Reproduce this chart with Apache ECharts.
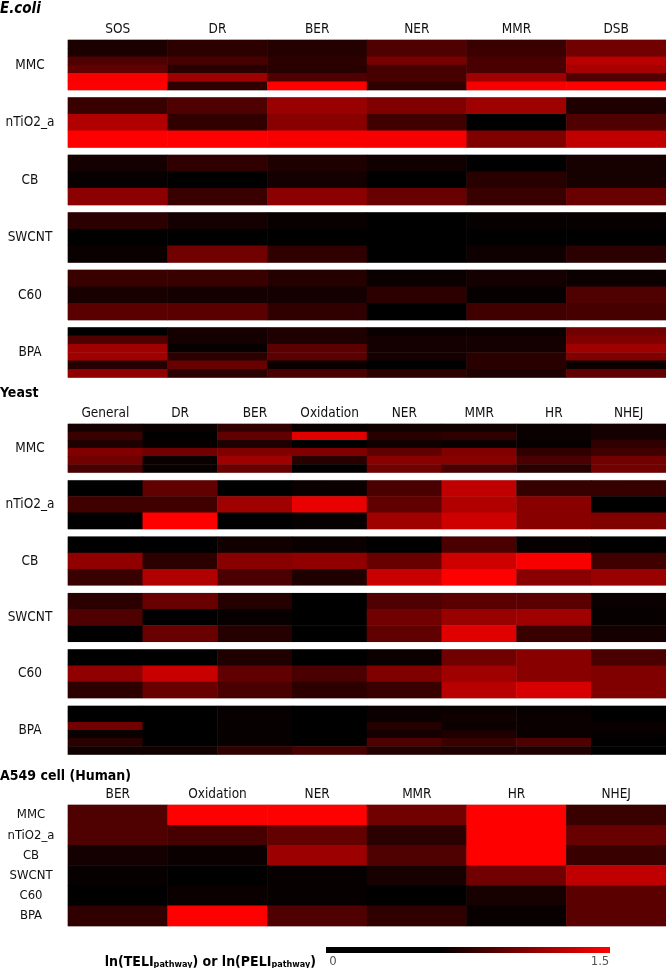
<!DOCTYPE html>
<html><head><meta charset="utf-8">
<script src="https://cdn.jsdelivr.net/npm/echarts@6/dist/echarts.min.js"></script>
<style>html,body{margin:0;padding:0;background:#fff}#c{width:666px;height:968px}</style>
</head><body><div id="c"></div>
<script>
// ---------- categories ----------
const chemicals = ['MMC', 'nTiO2_a', 'CB', 'SWCNT', 'C60', 'BPA'];
const ecoliPathways = ['SOS', 'DR', 'BER', 'NER', 'MMR', 'DSB'];
const yeastPathways = ['General', 'DR', 'BER', 'Oxidation', 'NER', 'MMR', 'HR', 'NHEJ'];
const humanPathways = ['BER', 'Oxidation', 'NER', 'MMR', 'HR', 'NHEJ'];
const colorTicks = ['0', '1.5'];
const colorRange = [0, 1.5];

// ---------- E.coli values (rows = sub-rows of each chemical, cols = pathways) ----------
const ecoli_MMC = [
  [0.70, 0.76, 0.73, 0.88, 0.80, 1.00],
  [0.70, 0.76, 0.73, 0.88, 0.81, 1.00],
  [0.88, 0.85, 0.76, 1.02, 0.86, 1.25],
  [0.94, 0.74, 0.74, 0.85, 0.86, 1.19],
  [1.48, 1.16, 0.88, 0.85, 1.16, 0.88],
  [1.50, 0.77, 1.50, 0.77, 1.48, 1.50]];
const ecoli_nTiO2_a = [
  [0.80, 0.88, 1.14, 1.05, 1.16, 0.71],
  [1.22, 0.77, 1.08, 0.83, 0.30, 0.88],
  [1.50, 1.50, 1.48, 1.48, 1.05, 1.28]];
const ecoli_CB = [
  [0.67, 0.77, 0.71, 0.66, 0.35, 0.68],
  [0.62, 0.40, 0.67, 0.40, 0.74, 0.68],
  [1.09, 0.80, 1.09, 0.97, 0.80, 0.97]];
const ecoli_SWCNT = [
  [0.75, 0.67, 0.63, 0.45, 0.62, 0.62],
  [0.40, 0.35, 0.40, 0.30, 0.40, 0.45],
  [0.64, 1.00, 0.77, 0.35, 0.65, 0.75]];
const ecoli_C60 = [
  [0.80, 0.80, 0.73, 0.64, 0.67, 0.64],
  [0.69, 0.67, 0.67, 0.76, 0.62, 0.88],
  [0.92, 0.92, 0.77, 0.40, 0.83, 0.85]];
const ecoli_BPA = [
  [0.40, 0.67, 0.71, 0.64, 0.64, 1.00],
  [0.88, 0.67, 0.71, 0.67, 0.67, 1.05],
  [1.16, 0.62, 0.92, 0.67, 0.67, 1.16],
  [1.16, 0.75, 0.92, 0.67, 0.74, 1.05],
  [0.73, 0.97, 0.64, 0.40, 0.74, 0.64],
  [1.11, 0.75, 0.86, 0.76, 0.71, 0.94]];

// ---------- Yeast values ----------
const yeast_MMC = [
  [0.67, 0.64, 0.77, 0.64, 0.66, 0.66, 0.64, 0.67],
  [0.80, 0.40, 0.94, 1.39, 0.74, 0.77, 0.64, 0.67],
  [0.71, 0.63, 0.71, 0.35, 0.66, 0.64, 0.62, 0.77],
  [1.05, 1.00, 1.05, 1.05, 0.94, 1.05, 0.77, 0.83],
  [1.00, 0.64, 1.16, 0.74, 1.08, 1.08, 0.86, 1.00],
  [0.86, 0.63, 0.97, 0.40, 1.00, 0.86, 0.74, 1.00]];
const yeast_nTiO2_a = [
  [0.35, 0.94, 0.40, 0.64, 0.86, 1.28, 0.79, 0.79],
  [0.83, 0.83, 1.16, 1.42, 0.94, 1.22, 1.08, 0.40],
  [0.40, 1.50, 0.30, 0.62, 1.16, 1.33, 1.08, 1.05]];
const yeast_CB = [
  [0.40, 0.35, 0.66, 0.64, 0.40, 0.86, 0.62, 0.35],
  [1.11, 0.76, 1.08, 1.11, 0.97, 1.33, 1.48, 0.83],
  [0.80, 1.22, 0.86, 0.71, 1.31, 1.50, 1.08, 1.14]];
const yeast_SWCNT = [
  [0.75, 0.97, 0.73, 0.40, 0.88, 0.92, 0.92, 0.64],
  [0.88, 0.40, 0.62, 0.35, 1.00, 1.14, 1.16, 0.62],
  [0.40, 0.97, 0.73, 0.30, 0.94, 1.39, 0.80, 0.67]];
const yeast_C60 = [
  [0.40, 0.35, 0.71, 0.40, 0.64, 1.00, 1.08, 0.86],
  [1.11, 1.31, 0.94, 0.86, 1.05, 1.16, 1.08, 1.05],
  [0.76, 0.97, 0.86, 0.76, 0.80, 1.25, 1.36, 1.05]];
const yeast_BPA = [
  [0.40, 0.35, 0.62, 0.40, 0.64, 0.64, 0.62, 0.40],
  [0.35, 0.40, 0.63, 0.35, 0.64, 0.66, 0.64, 0.45],
  [1.00, 0.40, 0.62, 0.40, 0.73, 0.64, 0.64, 0.64],
  [0.64, 0.35, 0.62, 0.35, 0.67, 0.71, 0.64, 0.62],
  [0.75, 0.40, 0.62, 0.40, 0.88, 0.80, 0.88, 0.35],
  [0.66, 0.66, 0.77, 0.85, 0.73, 0.71, 0.71, 0.40]];

// ---------- A549 (Human) values: rows = chemicals ----------
const human_values = [
  [0.88, 1.50, 1.50, 1.00, 1.50, 0.80],
  [0.88, 0.85, 0.95, 0.75, 1.50, 0.97],
  [0.67, 0.64, 1.15, 0.88, 1.50, 0.80],
  [0.62, 0.40, 0.62, 0.68, 1.00, 1.28],
  [0.40, 0.64, 0.62, 0.40, 0.68, 0.92],
  [0.77, 1.50, 0.88, 0.77, 0.63, 0.92]];

const ecoliBlocks = [ecoli_MMC, ecoli_nTiO2_a, ecoli_CB, ecoli_SWCNT, ecoli_C60, ecoli_BPA];
const yeastBlocks = [yeast_MMC, yeast_nTiO2_a, yeast_CB, yeast_SWCNT, yeast_C60, yeast_BPA];

// ---------- chart ----------
const FONT = "'Liberation Sans Narrow','DejaVu Sans Condensed','Liberation Sans',sans-serif";
const LBL = 13.5;
const chart = echarts.init(document.getElementById('c'), null, {renderer: 'canvas'});
const grids = [], xAxes = [], yAxes = [], series = [];

function addBlock(pathways, rows, top, height, name, showHeader, rowLabels) {
  const k = grids.length;
  grids.push({left: 68, right: 0, top: top, height: height, show: true,
    borderColor: '#c4c4c4', borderWidth: 1, backgroundColor: 'transparent'});
  xAxes.push({gridIndex: k, type: 'category', data: pathways, position: 'top',
    axisLine: {show: false}, axisTick: {show: false}, splitLine: {show: false},
    axisLabel: {show: showHeader, margin: 4, fontSize: LBL, color: '#111', fontFamily: FONT, interval: 0}});
  const yData = rowLabels ? rowLabels : rows.map((_, i) => name + '_' + (i + 1));
  const y = {gridIndex: k, type: 'category', data: yData, inverse: true,
    axisLine: {show: false}, axisTick: {show: false}, splitLine: {show: false},
    axisLabel: {show: !!rowLabels, align: 'center', margin: 37, fontSize: 13, color: '#111', fontFamily: FONT}};
  if (!rowLabels) {
    y.name = name; y.nameLocation = 'middle'; y.nameRotate = 0; y.nameGap = 38;
    y.nameTextStyle = {align: 'center', verticalAlign: 'middle', fontSize: LBL, color: '#111', fontFamily: FONT};
  }
  yAxes.push(y);
  const data = [];
  rows.forEach((r, i) => r.forEach((v, j) => data.push([j, i, v])));
  series.push({type: 'heatmap', xAxisIndex: k, yAxisIndex: k, data: data,
    itemStyle: {borderWidth: 0}, emphasis: {disabled: true}, progressive: 0});
}

ecoliBlocks.forEach((rows, i) => addBlock(ecoliPathways, rows, 40 + i * 57.5, 50, chemicals[i], i === 0));
yeastBlocks.forEach((rows, i) => addBlock(yeastPathways, rows, 424 + i * 56.4, 48.5, chemicals[i], i === 0));
addBlock(humanPathways, human_values, 805, 121, 'A549', true, chemicals);

// colour scale: black up to 40% of the range, then linear to pure red
const stops = ['#000000', '#000000', '#000000', '#000000', '#000000', '#000000', '#000000',
  '#1c0000', '#390000', '#550000', '#710000', '#8e0000', '#aa0000', '#c60000', '#e30000', '#ff0000'];
const gradient = new echarts.graphic.LinearGradient(0, 0, 1, 0,
  stops.map((c, i) => ({offset: i / (stops.length - 1), color: c})));

const titleStyle = {fontWeight: 'bold', fontSize: 14, color: '#000', fontFamily: FONT};
chart.setOption({
  animation: false,
  title: [
    {text: 'E.coli', left: 0, top: 2, padding: 0, textStyle: Object.assign({}, titleStyle, {fontStyle: 'italic', fontSize: 15})},
    {text: 'Yeast', left: 0, top: 386, padding: 0, textStyle: titleStyle},
    {text: 'A549 cell (Human)', left: 0, top: 769, padding: 0, textStyle: titleStyle}
  ],
  grid: grids, xAxis: xAxes, yAxis: yAxes, series: series,
  visualMap: {type: 'continuous', show: false, min: colorRange[0], max: colorRange[1],
    seriesIndex: series.map((_, i) => i), inRange: {color: stops}},
  graphic: [
    {type: 'rect', shape: {x: 326, y: 947, width: 284, height: 6}, style: {fill: gradient}, silent: true},
    {type: 'text', x: 316, y: 962, style: {
      text: '{b|ln(TELI}{s|pathway}{b|) or ln(PELI}{s|pathway}{b|)}',
      align: 'right', verticalAlign: 'middle',
      rich: {b: {fontSize: 14, fontWeight: 'bold', fontFamily: FONT, fill: '#000', verticalAlign: 'bottom'},
             s: {fontSize: 9, fontWeight: 'bold', fontFamily: FONT, fill: '#000', verticalAlign: 'bottom'}}}},
    {type: 'text', x: 333, y: 962, style: {text: colorTicks[0], align: 'center', verticalAlign: 'middle', fontSize: 13, fontFamily: FONT, fill: '#555'}},
    {type: 'text', x: 600, y: 962, style: {text: colorTicks[1], align: 'center', verticalAlign: 'middle', fontSize: 13, fontFamily: FONT, fill: '#555'}}
  ]
});
</script></body></html>
